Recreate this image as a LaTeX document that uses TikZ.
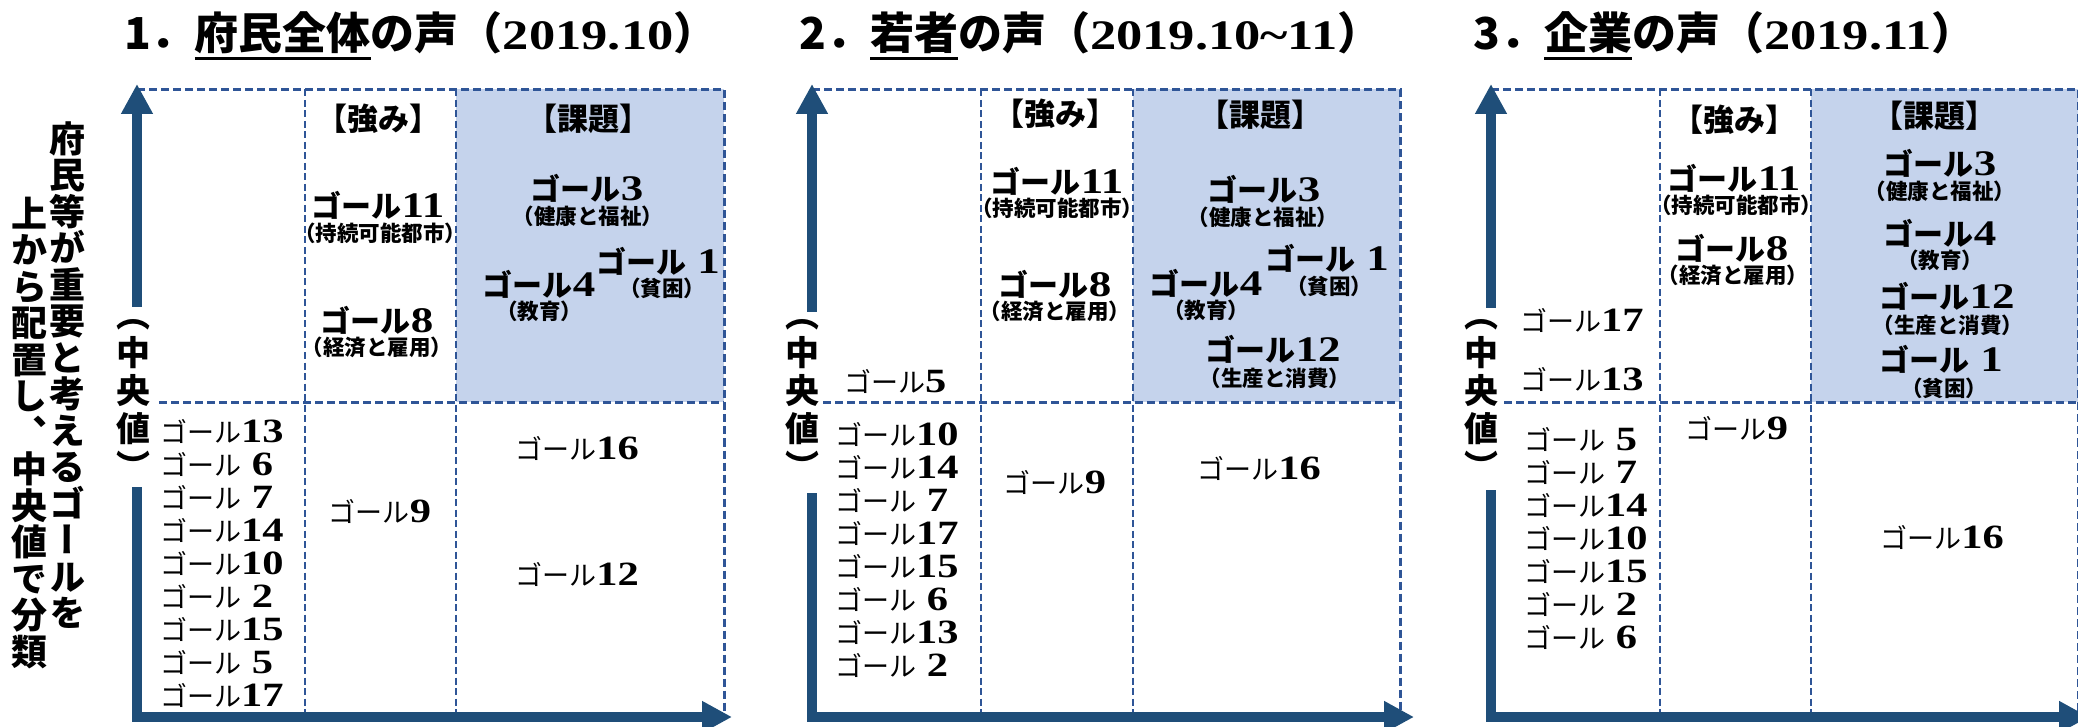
\documentclass[tikz,border=0pt]{standalone}
\usepackage{fontspec}
\newfontfamily\jp{Noto Sans CJK JP}
\newfontfamily\jpv{Noto Sans CJK JP}[RawFeature=+vert]
\newfontfamily\numf{Liberation Serif}[FakeStretch=1.25]
\usetikzlibrary{positioning,arrows.meta}
\definecolor{axisblue}{HTML}{1F4E79}
\definecolor{dashblue}{HTML}{2F5597}
\definecolor{issuefill}{HTML}{C5D3EC}
\newcommand{\gl}[1]{{\jp\fontsize{27}{33}\selectfont ゴール}{\numf\bfseries\fontsize{34}{33}\selectfont #1}}
\newcommand{\bgl}[1]{{\jp\bfseries\fontsize{30}{33}\selectfont ゴール}{\numf\bfseries\fontsize{36}{33}\selectfont #1}}
\newcommand{\yr}[1]{{\numf\bfseries\fontsize{42}{48}\selectfont #1}}
\AtBeginDocument{\lineskiplimit=-50pt}

\begin{document}
\begin{tikzpicture}[x=1pt,y=-1pt,inner sep=0pt,
axis/.style={line width=10pt,draw=axisblue,line join=miter,
  -{Triangle[width=30pt,length=30pt]}},
frame/.style={draw=dashblue,line width=3pt,dash pattern=on 8pt off 4pt},
split/.style={draw=dashblue,line width=2.5pt,dash pattern=on 7pt off 3.5pt},
title/.style={font=\jp\bfseries\fontsize{44}{48}\selectfont,anchor=base west},
tate/.style={font=\jpv\bfseries\fontsize{36}{36.5}\selectfont,align=center},
median/.style={font=\jpv\bfseries\fontsize{34}{38}\selectfont,align=center},
hdr/.style={font=\jp\bfseries\fontsize{31}{33}\selectfont},
sub/.style={font=\jp\bfseries\fontsize{21.5}{24}\selectfont},
item/.style={anchor=base west}
]
\useasboundingbox (0,0) rectangle (2078,727);

% shaded issue columns
\fill[issuefill] (456,89.5) rectangle (724,402);
\fill[issuefill] (1133,89.5) rectangle (1400,402);
\fill[issuefill] (1811,89.5) rectangle (2078,402);

% dashed grids
\draw[frame] (137,89.5) -| (724,712);
\draw[frame] (159,402) -- (724,402);
\draw[split] (305,89.5) -- (305,712);
\draw[split] (456,89.5) -- (456,712);

\draw[frame] (812,89.5) -| (1400,712);
\draw[frame] (823,402) -- (1400,402);
\draw[split] (981,89.5) -- (981,712);
\draw[split] (1133,89.5) -- (1133,712);

\draw[frame] (1491,89.5) -| (2078,712);
\draw[frame] (1504,402) -- (2078,402);
\draw[split] (1660,89.5) -- (1660,712);
\draw[split] (1811,89.5) -- (1811,712);

% titles
\node[title] (t1) at (124,50) {1．\rlap{\rule[-10pt]{4em}{3pt}}府民全体の声（\yr{2019.10}）};
\node[title] (t2) at (799,50) {2．\rlap{\rule[-10pt]{2em}{3pt}}若者の声（\yr{2019.10\textasciitilde11}）};
\node[title] (t3) at (1473,50) {3．\rlap{\rule[-10pt]{2em}{3pt}}企業の声（\yr{2019.11}）};

% vertical caption
\node[tate] (v1) at (67,375) {府\\民\\等\\が\\重\\要\\と\\考\\え\\る\\ゴ\\ー\\ル\\を};
\node[tate] (v2) at (29,433) {上\\か\\ら\\配\\置\\し\\、\\中\\央\\値\\で\\分\\類};

% axes
\node[median] (m1) at (133,400) {（\\中\\央\\値\\）};
\node[median] (m2) at (802,400) {（\\中\\央\\値\\）};
\node[median] (m3) at (1481,400) {（\\中\\央\\値\\）};
\coordinate (a1s) at (137,307); \coordinate (a1t) at (137,84);
\coordinate (a1b) at (137,487); \coordinate (a1e) at (732,717);
\coordinate (a2s) at (812,312); \coordinate (a2t) at (812,84);
\coordinate (a2b) at (812,493); \coordinate (a2e) at (1414,717);
\coordinate (a3s) at (1491,308); \coordinate (a3t) at (1491,84);
\coordinate (a3b) at (1491,490); \coordinate (a3e) at (2089,717);
\draw[axis] (a1s) -- (a1t);
\draw[axis] (a1b) |- (a1e);
\draw[axis] (a2s) -- (a2t);
\draw[axis] (a2b) |- (a2e);
\draw[axis] (a3s) -- (a3t);
\draw[axis] (a3b) |- (a3e);

% panel 1
\node[hdr] (p1s) at (378,119) {【強み】};
\node[hdr] (p1k) at (588,119) {【課題】};
\node (p1g11) at (378,205) {\bgl{11}};
\node[sub] (p1g11s) at (380,233) {（持続可能都市）};
\node (p1g8) at (377,320) {\bgl{8}};
\node[sub] (p1g8s) at (377,347) {（経済と雇用）};
\node (p1g3) at (587,188) {\bgl{3}};
\node[sub] (p1g3s) at (588,216) {（健康と福祉）};
\node (p1g4) at (539,284) {\bgl{4}};
\node[sub] (p1g4s) at (539,311) {（教育）};
\node (p1g1) at (658,261) {\bgl{~1}};
\node[sub] (p1g1s) at (662,288) {（貧困）};
\node (p1g9) at (380,511) {\gl{9}};
\node (p1g16) at (577,448) {\gl{16}};
\node (p1g12) at (577,574) {\gl{12}};
\foreach \g [count=\i] in {13,~6,~7,14,10,~2,15,~5,17}
  \node[item] (p1l\i) at (160,{442+33*(\i-1)}) {\gl{\g}};

% panel 2
\node[hdr] (p2s) at (1055,114) {【強み】};
\node[hdr] (p2k) at (1260,115) {【課題】};
\node (p2g11) at (1057,181) {\bgl{11}};
\node[sub] (p2g11s) at (1057,208) {（持続可能都市）};
\node (p2g8) at (1055,284) {\bgl{8}};
\node[sub] (p2g8s) at (1055,311) {（経済と雇用）};
\node (p2g3) at (1264,189) {\bgl{3}};
\node[sub] (p2g3s) at (1263,217) {（健康と福祉）};
\node (p2g4) at (1206,283) {\bgl{4}};
\node[sub] (p2g4s) at (1206,310) {（教育）};
\node (p2g1) at (1327,258) {\bgl{~1}};
\node[sub] (p2g1s) at (1329,286) {（貧困）};
\node (p2g12) at (1273,349.5) {\bgl{12}};
\node[sub] (p2g12s) at (1275,378.5) {（生産と消費）};
\node[item] (p2g5) at (844,392) {\gl{5}};
\node (p2g9) at (1055,482) {\gl{9}};
\node (p2g16) at (1259,468) {\gl{16}};
\foreach \g [count=\i] in {10,14,~7,17,15,~6,13,~2}
  \node[item] (p2l\i) at (835,{445+33*(\i-1)}) {\gl{\g}};

% panel 3
\node[hdr] (p3s) at (1734,120) {【強み】};
\node[hdr] (p3k) at (1934,116) {【課題】};
\node (p3g11) at (1734,178) {\bgl{11}};
\node[sub] (p3g11s) at (1736,205) {（持続可能都市）};
\node (p3g8) at (1732,248) {\bgl{8}};
\node[sub] (p3g8s) at (1733,275) {（経済と雇用）};
\node (p3g3) at (1940,163) {\bgl{3}};
\node[sub] (p3g3s) at (1940,191) {（健康と福祉）};
\node (p3g4) at (1940,233) {\bgl{4}};
\node[sub] (p3g4s) at (1940,260) {（教育）};
\node (p3g12) at (1947,296.5) {\bgl{12}};
\node[sub] (p3g12s) at (1948,325.5) {（生産と消費）};
\node (p3g1) at (1941,359.5) {\bgl{~1}};
\node[sub] (p3g1s) at (1944,388) {（貧困）};
\node[item] (p3g17) at (1520,332) {\gl{17}};
\node[item] (p3g13) at (1520,390) {\gl{13}};
\node (p3g9) at (1737,428) {\gl{9}};
\node (p3g16) at (1942,537) {\gl{16}};
\foreach \g [count=\i] in {~5,~7,14,10,15,~2,~6}
  \node[item] (p3l\i) at (1524,{450+33*(\i-1)}) {\gl{\g}};
\end{tikzpicture}
\end{document}
